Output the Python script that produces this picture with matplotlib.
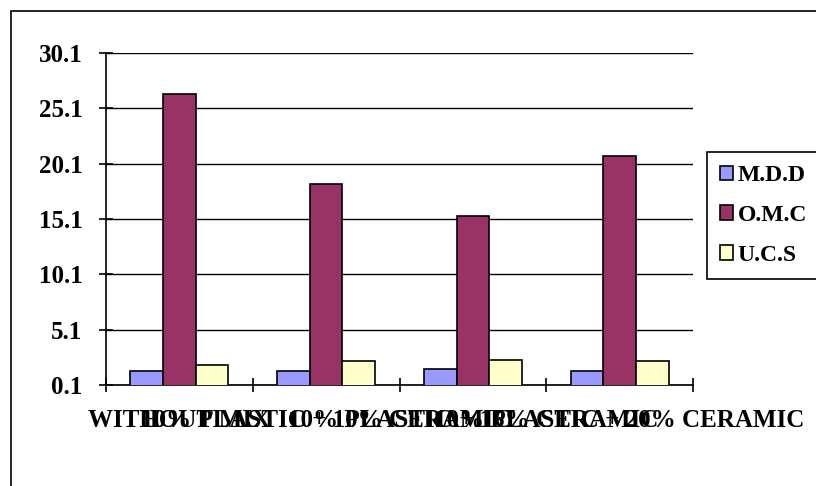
import numpy as np
import matplotlib.pyplot as plt
from matplotlib.patches import Rectangle

plt.rcParams['font.family'] = ['Liberation Serif', 'DejaVu Serif']

categories = ['WITHOUT MIX', '10% PLASTIC + 10% CERAMIC',
              '10% PLASTIC + 15% CERAMIC', '10% PLASTIC + 20% CERAMIC']
mdd = [1.36, 1.36, 1.52, 1.36]
omc = [26.4, 18.3, 15.4, 20.8]
ucs = [1.94, 2.27, 2.40, 2.27]
series = [('M.D.D', mdd, '#9999FF'), ('O.M.C', omc, '#993366'), ('U.C.S', ucs, '#FFFFCC')]
yticks = [0.1, 5.1, 10.1, 15.1, 20.1, 25.1, 30.1]

fig = plt.figure(figsize=(8.16, 4.86), dpi=100)
W, H = 816, 486
ax = fig.add_axes([106 / W, 1 - 385 / H, (693 - 106) / W, (385 - 53) / H])

# outer chart frame
fig.patches.append(Rectangle((11 / W, -0.01), 1.0, 1 - 11 / H + 0.01, transform=fig.transFigure,
                             fill=False, edgecolor='black', linewidth=1.2))

x = np.arange(len(categories))
w = 1 / 4.5
for i, (name, vals, col) in enumerate(series):
    ax.bar(x + (i - 1) * w, vals, width=w, color=col, edgecolor='black',
           linewidth=1.2, label=name, zorder=3)

ax.set_xlim(-0.5, len(categories) - 0.5)
ax.set_ylim(0.1, 30.1)
ax.set_yticks(yticks)
ax.set_yticklabels([f'{t:.1f}' for t in yticks], fontsize=18, fontweight='bold')
ax.yaxis.grid(True, color='black', linewidth=1, zorder=0)

# category ticks sit on group boundaries, labels at group centres
ax.set_xticks(np.arange(len(categories) + 1) - 0.5)
ax.set_xticklabels([])
ax.set_xticks(x, minor=True)
ax.set_xticklabels(categories, minor=True, fontsize=18, fontweight='bold')
ax.tick_params(axis='x', which='minor', length=0, pad=17)
ax.tick_params(axis='x', which='major', direction='inout', length=10, width=1.2)
ax.tick_params(axis='y', direction='inout', length=10, width=1.2, pad=12)

for s in ['top', 'right']:
    ax.spines[s].set_visible(False)
for s in ['left', 'bottom']:
    ax.spines[s].set_linewidth(1.2)

leg = fig.legend(loc='upper left', bbox_to_anchor=(707 / W, 1 - 152 / H),
                 prop={'size': 17, 'weight': 'bold'}, fancybox=False,
                 edgecolor='black', framealpha=1, handlelength=0.55, handleheight=0.55,
                 handletextpad=0.2, borderpad=0.55, labelspacing=0.8, borderaxespad=0)
leg.get_frame().set_linewidth(1.2)

fig.savefig('out.png', dpi=100)
